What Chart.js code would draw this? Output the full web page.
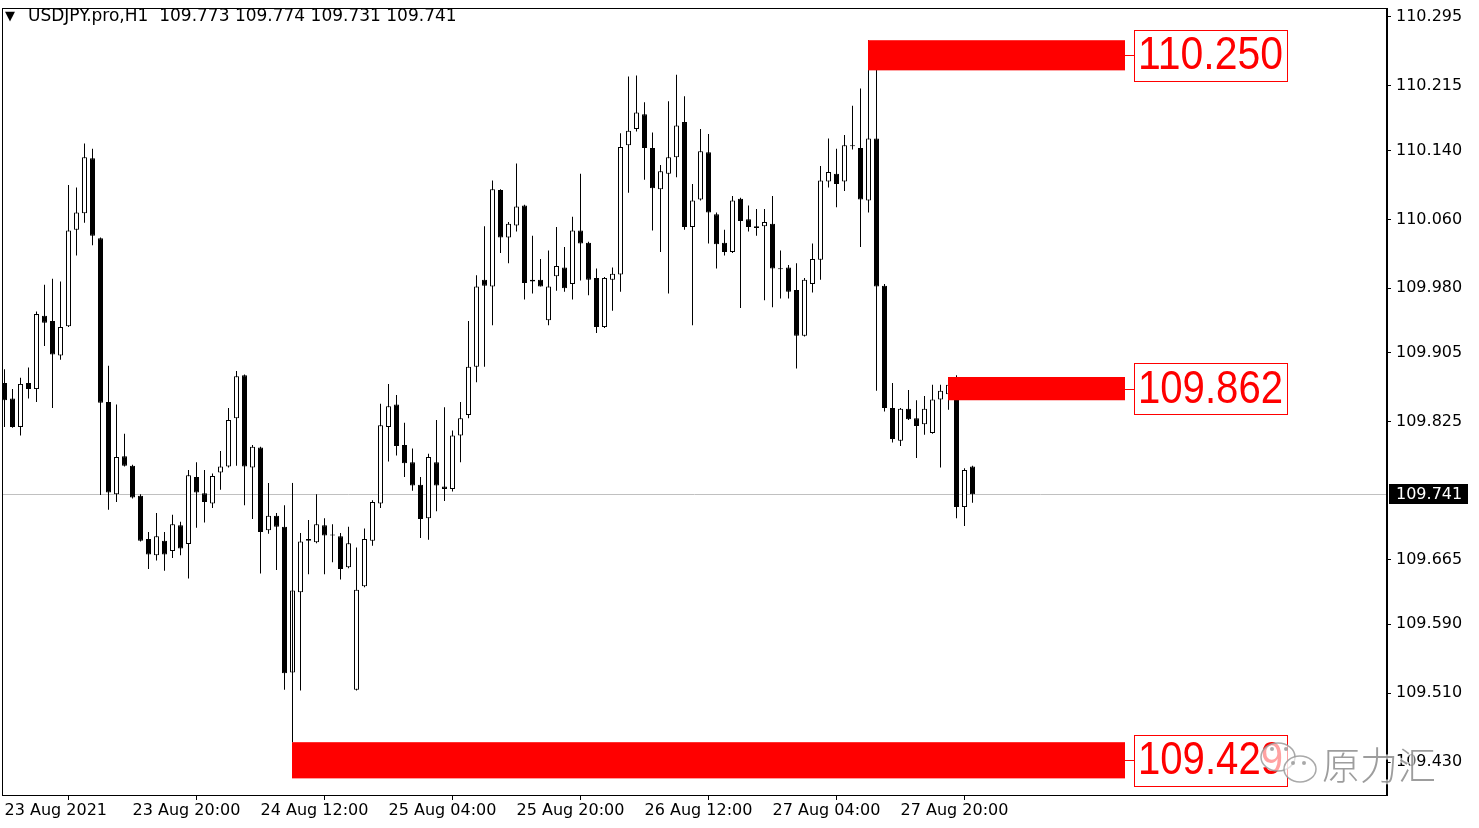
<!DOCTYPE html>
<html>
<head>
<meta charset="utf-8">
<script src="https://cdn.jsdelivr.net/npm/chart.js@4.4.0/dist/chart.umd.min.js"></script>
<style>
  html, body { margin: 0; padding: 0; background: #fff; }
</style>
</head>
<body>
<canvas id="chart" width="1479" height="828"></canvas>
<script>
// USDJPY.pro H1 candles, one per hour
const opens = [
  109.870, 109.852, 109.819, 109.870, 109.863, 109.948, 109.942, 109.902, 109.936, 110.048,
  110.067, 110.131, 110.038, 109.848, 109.741, 109.785, 109.774, 109.739, 109.689, 109.670,
  109.687, 109.675, 109.705, 109.683, 109.761, 109.742, 109.730, 109.766, 109.773, 109.829,
  109.879, 109.772, 109.795, 109.699, 109.716, 109.703, 109.534, 109.627, 109.687, 109.685,
  109.705, 109.694, 109.692, 109.656, 109.514, 109.634, 109.687, 109.730, 109.819, 109.845,
  109.798, 109.778, 109.752, 109.713, 109.778, 109.750, 109.747, 109.809, 109.833, 109.889,
  109.990, 109.982, 110.094, 110.039, 110.053, 110.076, 109.990, 109.990, 109.943, 109.994,
  110.004, 109.985, 110.047, 110.033, 109.992, 109.935, 109.990, 109.996, 110.146, 110.165,
  110.182, 110.143, 110.095, 110.113, 110.132, 110.173, 110.051, 110.083, 110.138, 110.066,
  110.033, 110.022, 110.084, 110.060, 110.050, 110.052, 110.055, 110.003, 110.004, 109.978,
  109.925, 109.985, 110.013, 110.104, 110.113, 110.104, 110.146, 110.143, 110.082, 110.154,
  109.983, 109.841, 109.803, 109.840, 109.829, 109.822, 109.812, 109.851, 109.857, 109.865,
  109.726, 109.773
];
const highs = [
  109.886, 109.863, 109.876, 109.888, 109.953, 109.984, 109.991, 109.988, 110.100, 110.097,
  110.148, 110.142, 110.039, 109.890, 109.845, 109.811, 109.775, 109.741, 109.697, 109.719,
  109.697, 109.717, 109.709, 109.769, 109.778, 109.769, 109.765, 109.791, 109.841, 109.884,
  109.880, 109.798, 109.796, 109.754, 109.719, 109.728, 109.754, 109.696, 109.711, 109.741,
  109.713, 109.706, 109.696, 109.703, 109.679, 109.701, 109.734, 109.846, 109.869, 109.856,
  109.824, 109.794, 109.761, 109.788, 109.827, 109.842, 109.815, 109.848, 109.942, 109.995,
  110.052, 110.105, 110.095, 110.057, 110.125, 110.077, 110.041, 110.014, 110.024, 110.051,
  110.028, 110.063, 110.113, 110.034, 110.003, 109.993, 110.004, 110.160, 110.226, 110.227,
  110.196, 110.161, 110.123, 110.197, 110.228, 110.203, 110.101, 110.165, 110.159, 110.068,
  110.048, 110.087, 110.085, 110.076, 110.072, 110.072, 110.087, 110.024, 110.007, 110.009,
  109.992, 110.032, 110.122, 110.154, 110.142, 110.158, 110.192, 110.212, 110.268, 110.257,
  109.985, 109.870, 109.841, 109.862, 109.850, 109.855, 109.868, 109.868, 109.877, 109.879,
  109.771, 109.774
];
const lows = [
  109.819, 109.818, 109.809, 109.852, 109.848, 109.913, 109.841, 109.897, 109.935, 110.018,
  110.056, 110.030, 109.740, 109.723, 109.732, 109.773, 109.736, 109.686, 109.654, 109.664,
  109.652, 109.667, 109.670, 109.643, 109.702, 109.708, 109.725, 109.746, 109.772, 109.774,
  109.728, 109.712, 109.649, 109.695, 109.653, 109.514, 109.511, 109.513, 109.648, 109.684,
  109.648, 109.662, 109.642, 109.655, 109.513, 109.633, 109.681, 109.725, 109.779, 109.786,
  109.761, 109.745, 109.690, 109.688, 109.721, 109.733, 109.744, 109.778, 109.829, 109.871,
  109.889, 109.937, 110.021, 110.009, 110.046, 109.967, 109.974, 109.982, 109.937, 109.977,
  109.976, 109.967, 109.989, 109.972, 109.928, 109.934, 109.954, 109.976, 110.091, 110.162,
  110.106, 110.047, 110.022, 109.974, 110.109, 110.048, 109.937, 110.082, 110.032, 110.003,
  110.018, 110.021, 109.957, 110.046, 110.041, 109.966, 109.958, 109.968, 109.968, 109.887,
  109.924, 109.975, 109.990, 110.097, 110.074, 110.093, 110.141, 110.028, 110.068, 109.861,
  109.837, 109.801, 109.797, 109.827, 109.783, 109.810, 109.811, 109.772, 109.839, 109.713,
  109.704, 109.731
];
const closes = [
  109.850, 109.819, 109.869, 109.863, 109.950, 109.940, 109.903, 109.935, 110.047, 110.068,
  110.132, 110.041, 109.847, 109.743, 109.784, 109.774, 109.737, 109.687, 109.671, 109.692,
  109.671, 109.706, 109.678, 109.763, 109.743, 109.732, 109.762, 109.773, 109.827, 109.878,
  109.773, 109.796, 109.697, 109.716, 109.703, 109.533, 109.629, 109.686, 109.689, 109.706,
  109.693, 109.693, 109.654, 109.684, 109.630, 109.689, 109.732, 109.821, 109.843, 109.797,
  109.777, 109.751, 109.712, 109.784, 109.751, 109.747, 109.809, 109.829, 109.889, 109.982,
  109.983, 110.095, 110.039, 110.055, 110.075, 109.986, 109.988, 109.982, 109.982, 110.006,
  109.980, 110.047, 110.032, 109.990, 109.935, 109.992, 109.997, 110.144, 110.163, 110.184,
  110.143, 110.096, 110.116, 110.132, 110.169, 110.051, 110.082, 110.139, 110.068, 110.031,
  110.022, 110.082, 110.058, 110.051, 110.052, 110.057, 110.003, 110.002, 109.976, 109.925,
  109.990, 110.014, 110.105, 110.115, 110.101, 110.146, 110.145, 110.083, 110.154, 109.982,
  109.841, 109.805, 109.840, 109.828, 109.820, 109.840, 109.851, 109.861, 109.868, 109.726,
  109.769, 109.741
];

// time axis: a label every 16 bars
const xTickIndex = [0, 16, 32, 48, 64, 80, 96, 112];
const xTickLabels = ['23 Aug 2021', '23 Aug 20:00', '24 Aug 12:00', '25 Aug 04:00',
                     '25 Aug 20:00', '26 Aug 12:00', '27 Aug 04:00', '27 Aug 20:00'];

// price axis
const yTickValues = [110.295, 110.215, 110.140, 110.060, 109.980, 109.905,
                     109.825, 109.665, 109.590, 109.510, 109.430];
const priceMin = 109.3917;
const priceMax = 110.3054;

// red zones (bar index from/to, prices)
const zoneStart  = [108, 118, 36];
const zoneEnd    = [140, 140, 140];
const zoneTop    = [110.268, 109.877, 109.453];
const zoneBottom = [110.233, 109.850, 109.411];
const zoneAnchor = [110.268, 109.877, 109.754];
const zoneLabels = ['110.250', '109.862', '109.429'];

const symbol = 'USDJPY.pro,H1';
const last = closes.length - 1;
const lastPrice = closes[last];

const axisFont = '16px "DejaVu Sans"';

// frame, current price line, zones, title, watermark
const chartExtras = {
  id: 'chartExtras',
  beforeDatasetsDraw(chart) {
    const { ctx, chartArea, scales: { y } } = chart;
    const yp = Math.round(y.getPixelForValue(lastPrice)) + 0.5;
    ctx.save();
    ctx.strokeStyle = '#c0c0c0';
    ctx.lineWidth = 1;
    ctx.beginPath();
    ctx.moveTo(chartArea.left, yp);
    ctx.lineTo(chartArea.right, yp);
    ctx.stroke();
    ctx.restore();
  },
  afterDatasetsDraw(chart) {
    const { ctx, chartArea, scales: { x, y } } = chart;
    ctx.save();
    for (let k = 0; k < zoneLabels.length; k++) {
      const x0 = Math.round(x.getPixelForValue(zoneStart[k])) - 1;
      const x1 = Math.round(x.getPixelForValue(zoneEnd[k]));
      const yt = y.getPixelForValue(zoneTop[k]);
      const yb = y.getPixelForValue(zoneBottom[k]);
      const ya = y.getPixelForValue(zoneAnchor[k]);
      const ym = (yt + yb) / 2;

      ctx.fillStyle = '#ff0000';
      ctx.fillRect(x0, yt, x1 - x0, yb - yt);

      // left edge line
      ctx.strokeStyle = '#000';
      ctx.lineWidth = 1;
      ctx.beginPath();
      ctx.moveTo(x0 + 0.5, ya);
      ctx.lineTo(x0 + 0.5, yt);
      ctx.stroke();

      // connector + label box
      const bx = x1 + 9, bw = 153, bh = 51;
      const by = Math.round(ym - bh / 2);
      ctx.strokeStyle = '#ff0000';
      ctx.beginPath();
      ctx.moveTo(x1, Math.round(ym) + 0.5);
      ctx.lineTo(bx, Math.round(ym) + 0.5);
      ctx.stroke();
      ctx.fillStyle = '#fff';
      ctx.fillRect(bx, by, bw, bh);
      ctx.strokeRect(bx + 0.5, by + 0.5, bw, bh);

      ctx.font = '47px "Liberation Sans"';
      const tw = ctx.measureText(zoneLabels[k]).width;
      const sx = (bw - 8) / tw;
      ctx.save();
      ctx.translate(bx + 4, ym + 1);
      ctx.scale(sx, 1);
      ctx.fillStyle = '#ff0000';
      ctx.textAlign = 'left';
      ctx.textBaseline = 'middle';
      ctx.fillText(zoneLabels[k], 0, 0);
      ctx.restore();
    }

    // title
    ctx.fillStyle = '#000';
    ctx.textBaseline = 'middle';
    ctx.textAlign = 'left';
    ctx.font = '13px "DejaVu Sans"';
    ctx.fillText('▼', 5, 17);
    ctx.font = '17px "DejaVu Sans"';
    const ohlc = [opens[last], highs[last], lows[last], closes[last]].map(v => v.toFixed(3)).join(' ');
    ctx.fillText(symbol + '  ' + ohlc, 28, 17);
    ctx.restore();
  },
  afterDraw(chart) {
    const { ctx, chartArea, scales: { y } } = chart;
    ctx.save();
    // frame
    ctx.strokeStyle = '#000';
    ctx.lineWidth = 1;
    ctx.strokeRect(chartArea.left + 0.5, chartArea.top + 0.5,
                   chartArea.right - chartArea.left - 1, chartArea.bottom - chartArea.top);

    // current price box on the axis
    const yp = Math.round(y.getPixelForValue(lastPrice));
    ctx.fillStyle = '#000';
    ctx.fillRect(chartArea.right + 2, yp - 10, 79, 20);
    ctx.fillStyle = '#fff';
    ctx.font = axisFont;
    ctx.textBaseline = 'middle';
    ctx.fillText(lastPrice.toFixed(3), chartArea.right + 9, yp + 1);

    // watermark
    ctx.globalAlpha = 0.85;
    ctx.strokeStyle = '#9a9a9a';
    ctx.fillStyle = 'rgba(255,255,255,0.75)';
    ctx.lineWidth = 1.5;
    ctx.beginPath();
    ctx.ellipse(1278, 757, 17, 14, 0, 0, Math.PI * 2);
    ctx.fill(); ctx.stroke();
    ctx.beginPath();
    ctx.ellipse(1300, 769, 16, 13, 0, 0, Math.PI * 2);
    ctx.fill(); ctx.stroke();
    ctx.fillStyle = '#9a9a9a';
    [[1272, 749], [1286, 749], [1293, 763], [1304, 763]].forEach(([a, b]) => {
      ctx.beginPath(); ctx.arc(a, b, 2, 0, Math.PI * 2); ctx.fill();
    });
    ctx.font = '300 38px "Noto Sans CJK SC"';
    ctx.lineWidth = 3;
    ctx.strokeStyle = 'rgba(255,255,255,0.8)';
    ctx.strokeText('原力汇', 1322, 765);
    ctx.fillStyle = '#8c8c8c';
    ctx.fillText('原力汇', 1322, 765);
    ctx.restore();
  }
};

const bodyColors = opens.map((o, i) => closes[i] >= o ? '#ffffff' : '#000000');

new Chart(document.getElementById('chart'), {
  type: 'bar',
  data: {
    datasets: [
      {
        label: 'body',
        data: opens.map((o, i) => ({ x: i, y: [o, closes[i]] })),
        backgroundColor: bodyColors,
        borderColor: '#000000',
        borderWidth: 1,
        borderSkipped: false,
        barThickness: 5,
        minBarLength: 1,
        grouped: false,
        inflateAmount: 0,
        order: 0
      },
      {
        label: 'wick',
        data: lows.map((l, i) => ({ x: i, y: [l, highs[i]] })),
        backgroundColor: '#000000',
        borderWidth: 0,
        barThickness: 1,
        grouped: false,
        inflateAmount: 0,
        order: 1
      }
    ]
  },
  options: {
    responsive: false,
    animation: false,
    layout: { padding: { left: 2, top: 8, right: 0, bottom: 0 } },
    plugins: { legend: { display: false }, tooltip: { enabled: false }, title: { display: false } },
    scales: {
      x: {
        type: 'linear',
        min: -0.3125,
        max: 172.8125,
        offset: false,
        afterBuildTicks: s => { s.ticks = xTickIndex.map(v => ({ value: v })); },
        afterFit: s => { s.height = 33; s.paddingLeft = 0; s.paddingRight = 0; },
        grid: { drawOnChartArea: false, drawTicks: true, tickLength: 5, color: '#000' },
        border: { display: true, color: '#000' },
        ticks: {
          autoSkip: false,
          maxRotation: 0,
          align: 'start',
          padding: 1,
          color: '#000',
          font: { family: 'DejaVu Sans', size: 16 },
          callback: v => xTickLabels[xTickIndex.indexOf(v)]
        }
      },
      y: {
        type: 'linear',
        position: 'right',
        min: priceMin,
        max: priceMax,
        afterBuildTicks: s => { s.ticks = yTickValues.map(v => ({ value: v })); },
        afterFit: s => { s.width = 92; s.paddingTop = 0; s.paddingBottom = 0; },
        grid: { drawOnChartArea: false, drawTicks: true, tickLength: 4, color: '#000' },
        border: { display: true, color: '#000' },
        ticks: {
          padding: 5,
          color: '#000',
          font: { family: 'DejaVu Sans', size: 16 },
          callback: v => v.toFixed(3)
        }
      }
    }
  },
  plugins: [chartExtras]
});
</script>
</body>
</html>
